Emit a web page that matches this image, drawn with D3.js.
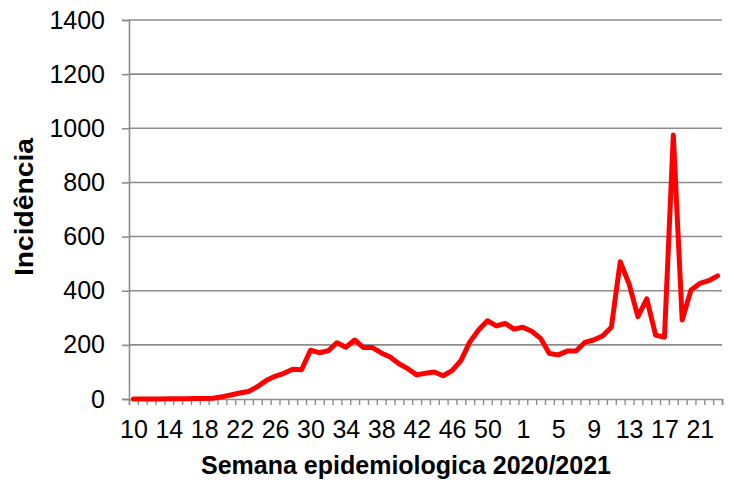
<!DOCTYPE html>
<html>
<head>
<meta charset="utf-8">
<script src="https://cdn.jsdelivr.net/npm/d3@7"></script>
<style>
  html, body { margin: 0; padding: 0; background: #fff; }
  svg { display: block; font-family: "Liberation Sans", Arial, sans-serif; }
</style>
</head>
<body>
<svg id="chart" width="732" height="487"></svg>
<script>
// Epidemiological weeks (2020: 10–53, 2021: 1–23)
const weeks = [10,11,12,13,14,15,16,17,18,19,20,21,22,23,24,25,26,27,28,29,30,31,32,33,34,35,36,37,38,39,40,41,42,43,44,45,46,47,48,49,50,51,52,53,
               1,2,3,4,5,6,7,8,9,10,11,12,13,14,15,16,17,18,19,20,21,22,23];
const incidence = [0,0,0,0,1,1,1,2,2,3,8,15,22,28,45,68,84,95,110,108,180,171,178,208,191,218,190,190,170,155,130,112,89,95,100,86,105,142,210,255,289,270,279,258,
                   265,250,224,168,163,177,177,209,218,233,265,507,425,304,370,236,228,975,292,403,427,437,455];
const yTicks = [0,200,400,600,800,1000,1200,1400];
const labelEvery = 4;
const xTitle = "Semana epidemiologica 2020/2021";
const yTitle = "Incidência";

(function () {
const svg = d3.select("#chart");
const mLeft = 129, mRight = 722, mTop = 20, mBottom = 399;
const gray = "#8c8c8c";

const x = d3.scaleLinear().domain([0, weeks.length]).range([mLeft, mRight]);
const y = d3.scaleLinear().domain([0, 1400]).range([mBottom, mTop]);

// gridlines
svg.append("g").selectAll("line").data(yTicks.filter(d => d > 0)).join("line")
  .attr("x1", mLeft).attr("x2", mRight)
  .attr("y1", d => y(d)).attr("y2", d => y(d))
  .attr("stroke", gray).attr("stroke-width", 1.6);

// y axis
const yAxis = svg.append("g").attr("transform", `translate(${mLeft},0)`)
  .call(d3.axisLeft(y).tickValues(yTicks).tickSize(7).tickPadding(17).tickFormat(d3.format("d")));
yAxis.select(".domain").attr("stroke", gray).attr("stroke-width", 1.6);
yAxis.selectAll(".tick line").attr("stroke", gray).attr("stroke-width", 1.6);
yAxis.selectAll("text").attr("font-size", 25).attr("fill", "#000")
  .attr("font-family", "Liberation Sans, Arial, sans-serif");

// x axis tick marks at category boundaries
const xAxis = svg.append("g").attr("transform", `translate(0,${mBottom})`)
  .call(d3.axisBottom(x).tickValues(d3.range(0, weeks.length + 1)).tickSize(6).tickFormat(""));
xAxis.select(".domain").attr("stroke", gray).attr("stroke-width", 1.6);
xAxis.selectAll(".tick line").attr("stroke", gray).attr("stroke-width", 1.4);

// x labels every 4th category
const labelIdx = d3.range(0, weeks.length).filter(i => i % labelEvery === 0);
const xLab = svg.append("g").attr("transform", `translate(0,${mBottom})`)
  .call(d3.axisBottom(x).tickValues(labelIdx.map(i => i + 0.5)).tickSize(0).tickPadding(21)
    .tickFormat(v => weeks[Math.round(v - 0.5)]));
xLab.select(".domain").remove();
xLab.selectAll("text").attr("font-size", 25).attr("fill", "#000")
  .attr("font-family", "Liberation Sans, Arial, sans-serif");

// line
const line = d3.line().x((d, i) => x(i + 0.5)).y(d => y(d));
svg.append("path").datum(incidence)
  .attr("d", line).attr("fill", "none")
  .attr("stroke", "#ff0000").attr("stroke-width", 5)
  .attr("stroke-linejoin", "round").attr("stroke-linecap", "round");

// titles
svg.append("text").attr("x", 406).attr("y", 474).attr("text-anchor", "middle")
  .attr("font-size", 25).attr("font-weight", "bold").text(xTitle);
svg.append("text").attr("transform", "translate(33,207) rotate(-90)").attr("text-anchor", "middle")
  .attr("font-size", 25).attr("font-weight", "bold")
  .attr("textLength", 138).attr("lengthAdjust", "spacingAndGlyphs").text(yTitle);
})();
</script>
</body>
</html>
